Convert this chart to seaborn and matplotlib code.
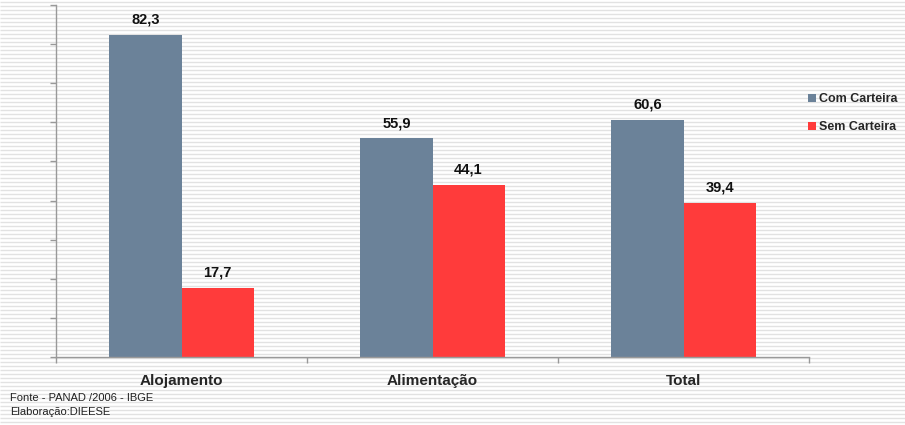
import matplotlib
matplotlib.use("Agg")
import matplotlib.pyplot as plt
import seaborn as sns
import pandas as pd
import numpy as np

categories = ["Alojamento", "Alimentação", "Total"]
series_names = ["Com Carteira", "Sem Carteira"]
com_carteira = [82.3, 55.9, 60.6]
sem_carteira = [17.7, 44.1, 39.4]
colors = ["#6B8299", "#FF3B3B"]

df = pd.DataFrame({
    "categoria": categories * 2,
    "serie": [series_names[0]] * 3 + [series_names[1]] * 3,
    "valor": com_carteira + sem_carteira,
})

sns.set_theme(style="white")
plt.rcParams["font.family"] = ["Liberation Sans", "DejaVu Sans"]

fig = plt.figure(figsize=(9.05, 4.25), dpi=100)
fig.patch.set_facecolor("white")

# striped background
bg = fig.add_axes([0, 0, 1, 1], zorder=-10)
bg.set_xlim(0, 905)
bg.set_ylim(425, 0)
bg.hlines(np.arange(1.5, 425, 4), 0, 905, color="#E2E2E2", lw=1.0)
bg.axis("off")

ax = fig.add_axes([56 / 905, 1 - 357 / 425, (809 - 56) / 905, (357 - 5) / 425])
ax.patch.set_alpha(0)

sns.barplot(data=df, x="categoria", y="valor", hue="serie", palette=colors,
            width=0.574, ax=ax, saturation=1, legend=True, linewidth=0,
            edgecolor="none")

ax.set_ylim(0, 90)
ax.set_xlim(-0.5, 2.5)
ax.set_yticks(np.arange(0, 91, 10))
ax.set_yticklabels([])
ax.tick_params(axis="y", which="major", left=True, length=4, color="#999999", width=1)
ax.set_xticks([0, 1, 2])
ax.set_xticklabels(categories, fontsize=11, fontweight="bold")
ax.set_xticks([-0.5, 0.5, 1.5, 2.5], minor=True)
ax.tick_params(axis="x", which="major", length=0, pad=12)
ax.tick_params(axis="x", which="minor", bottom=True, length=4, color="#999999", width=1)
ax.set_xlabel("")
ax.set_ylabel("")
for s in ["top", "right"]:
    ax.spines[s].set_visible(False)
for s in ["left", "bottom"]:
    ax.spines[s].set_color("#999999")
    ax.spines[s].set_linewidth(1)

for cont in ax.containers:
    labels = [f"{v:.1f}".replace(".", ",") for v in cont.datavalues]
    ax.bar_label(cont, labels=labels, padding=6, fontsize=10.5, fontweight="bold",
                 color="#111111")

leg = ax.legend(loc="upper left", bbox_to_anchor=(808 / 905, 1 - 93 / 425),
                bbox_transform=fig.transFigure, frameon=False,
                prop={"size": 9, "weight": "bold"}, handlelength=0.6,
                handleheight=0.6, handletextpad=0.3, labelspacing=1.3,
                borderaxespad=0, borderpad=0)

fig.text(10 / 905, 1 - 398 / 425, "Fonte - PANAD /2006 - IBGE", fontsize=8,
         va="center", ha="left", color="#222222")
fig.text(10 / 905, 1 - 412 / 425, "Elaboração:DIEESE", fontsize=8,
         va="center", ha="left", color="#222222")

fig.savefig("out.png", dpi=100)
